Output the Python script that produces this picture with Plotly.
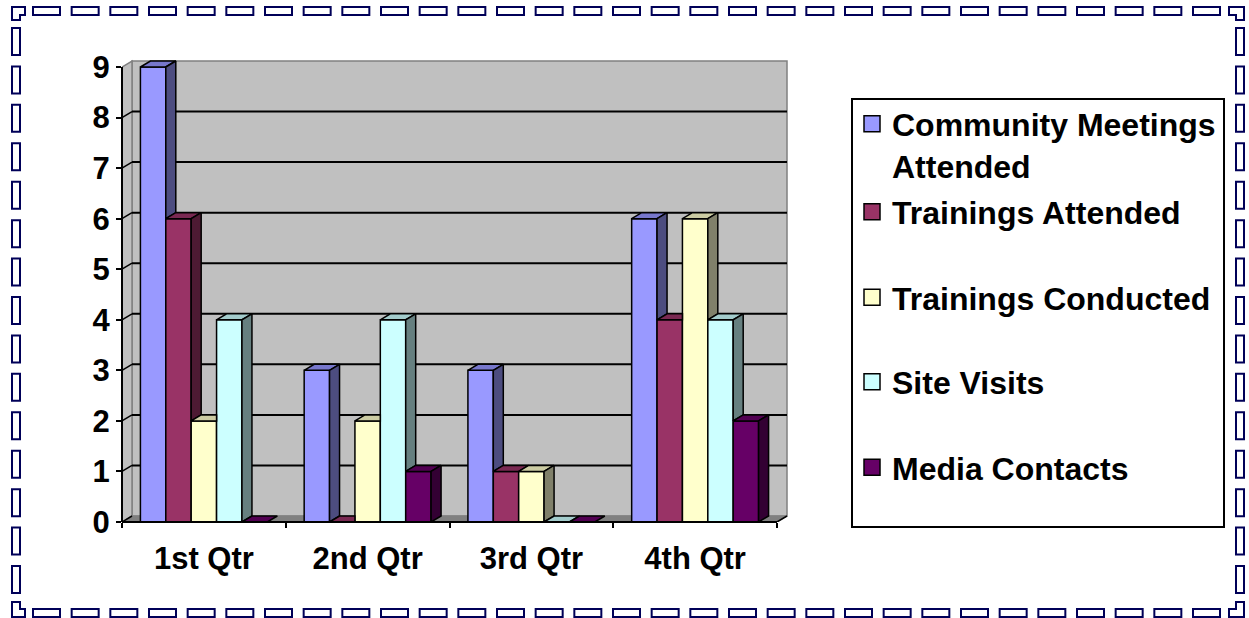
import plotly.graph_objects as go
import numpy as np

# ---------------- data ----------------
categories = ["1st Qtr", "2nd Qtr", "3rd Qtr", "4th Qtr"]
series_names = ["Community Meetings<br>Attended", "Trainings Attended",
                "Trainings Conducted", "Site Visits", "Media Contacts"]
community_meetings = [9, 3, 3, 6]
trainings_attended = [6, 0, 1, 4]
trainings_conducted = [2, 2, 1, 6]
site_visits = [4, 4, 0, 4]
media_contacts = [0, 1, 0, 2]
y_tick_values = [0, 1, 2, 3, 4, 5, 6, 7, 8, 9]

series_values = [community_meetings, trainings_attended, trainings_conducted,
                 site_visits, media_contacts]

# ---------------- styles ----------------
front_colors = ["#9999FF", "#993366", "#FFFFCC", "#CCFFFF", "#660066"]
top_colors = ["#7777CC", "#7A2952", "#CCCCA3", "#A3CCCC", "#520052"]
side_colors = ["#4D4D80", "#4D1A33", "#80806A", "#668080", "#330033"]
WALL = "#C0C0C0"
WALL_EDGE = "#808080"
FLOOR = "#808080"
BORDER = "#000058"
FONT = "Liberation Sans, Arial, sans-serif"

W, H = 1249, 618
PLOT_L, PLOT_R, PLOT_T, PLOT_B = 122, 790, 56, 522
TOP_TICK_PX = 67
X_END_PX = 777
DEPTH_X_PX, DEPTH_Y_PX = 10, 6

y_top = max(y_tick_values)
ncat = len(categories)
unit_y = (PLOT_B - TOP_TICK_PX) / y_top
YMAX = (PLOT_B - PLOT_T) / unit_y
XMIN = -0.5
unit_x = (X_END_PX - PLOT_L) / ncat
XMAX = XMIN + (PLOT_R - PLOT_L) / unit_x
dxu = DEPTH_X_PX / unit_x
dyu = DEPTH_Y_PX / unit_y
BAR_W = 0.155
nser = len(series_values)
XEND = XMIN + ncat


def px_x(px):
    return (px - PLOT_L) / (PLOT_R - PLOT_L)


def px_y(py):
    return (PLOT_B - py) / (PLOT_B - PLOT_T)


fig = go.Figure()

# front faces (bars)
centers = np.arange(ncat)
for i, vals in enumerate(series_values):
    xs = centers + (i - (nser - 1) / 2) * BAR_W
    fig.add_trace(go.Bar(x=xs, y=vals, width=BAR_W, marker=dict(color=front_colors[i],
                         line=dict(color="black", width=1.5)),
                         showlegend=False, hoverinfo="skip"))

# top and side faces, drawn series by series
for i, vals in enumerate(series_values):
    xs = centers + (i - (nser - 1) / 2) * BAR_W
    tx, ty, sx, sy = [], [], [], []
    for c in range(ncat):
        h = vals[c]
        L, R = xs[c] - BAR_W / 2, xs[c] + BAR_W / 2
        nxt = series_values[i + 1][c] if i + 1 < nser else None
        if nxt is not None and nxt > h:
            tx += [L, R, R, L + dxu, L, None]
            ty += [h, h, h + dyu, h + dyu, h, None]
        else:
            tx += [L, R, R + dxu, L + dxu, L, None]
            ty += [h, h, h + dyu, h + dyu, h, None]
        lo = min(h, nxt) if nxt is not None else 0
        if h > lo:
            sx += [R, R, R + dxu, R + dxu, R, None]
            sy += [lo, h, h + dyu, lo + dyu, lo, None]
    fig.add_trace(go.Scatter(x=tx, y=ty, mode="lines", fill="toself",
                             fillcolor=top_colors[i], line=dict(color="black", width=1.5),
                             showlegend=False, hoverinfo="skip"))
    if sx:
        fig.add_trace(go.Scatter(x=sx, y=sy, mode="lines", fill="toself",
                                 fillcolor=side_colors[i], line=dict(color="black", width=1.5),
                                 showlegend=False, hoverinfo="skip"))

# legend proxies, each in its own legend
legend_centers_px = [145, 212, 297.5, 382, 467.5]
legend_layouts = {}
for i, name in enumerate(series_names):
    key = "legend" if i == 0 else f"legend{i + 1}"
    fig.add_trace(go.Scatter(x=[None], y=[None], mode="markers", name=name,
                             marker=dict(symbol="square", size=16, color=front_colors[i],
                                         line=dict(color="black", width=1.5)),
                             legend=key, hoverinfo="skip"))
    legend_layouts[key] = dict(x=px_x(852), y=px_y(legend_centers_px[i]), xanchor="left",
                               yanchor="middle", valign="top", bgcolor="rgba(0,0,0,0)",
                               borderwidth=0,
                               font=dict(family=FONT, size=32, color="black", weight="bold"))

shapes = []
# back wall
shapes.append(dict(type="rect", xref="x", yref="y", x0=XMIN + dxu, x1=XEND + dxu,
                   y0=dyu, y1=y_top + dyu, fillcolor=WALL, line=dict(color=WALL_EDGE, width=1.5),
                   layer="below"))
# left wall
shapes.append(dict(type="path", xref="x", yref="y",
                   path=f"M{XMIN},0 L{XMIN},{y_top} L{XMIN + dxu},{y_top + dyu} L{XMIN + dxu},{dyu} Z",
                   fillcolor=WALL, line=dict(color=WALL_EDGE, width=1.5), layer="below"))
# floor
shapes.append(dict(type="path", xref="x", yref="y",
                   path=f"M{XMIN},0 L{XEND},0 L{XEND + dxu},{dyu} L{XMIN + dxu},{dyu} Z",
                   fillcolor=FLOOR, line=dict(color=FLOOR, width=1), layer="below"))
# gridlines on back wall and left wall
for k in y_tick_values[1:-1]:
    shapes.append(dict(type="line", xref="x", yref="y", x0=XMIN + dxu, x1=XEND + dxu,
                       y0=k + dyu, y1=k + dyu, line=dict(color="black", width=2), layer="below"))
for k in y_tick_values[:-1]:
    shapes.append(dict(type="line", xref="x", yref="y", x0=XMIN, x1=XMIN + dxu,
                       y0=k, y1=k + dyu, line=dict(color="black", width=1.5), layer="below"))
# right end of floor edge
shapes.append(dict(type="line", xref="x", yref="y", x0=XEND, x1=XEND + dxu, y0=0, y1=dyu,
                   line=dict(color="black", width=1.5)))
# axis lines
shapes.append(dict(type="line", xref="paper", yref="paper", x0=0, x1=0, y0=0,
                   y1=y_top / YMAX, line=dict(color="black", width=2)))
shapes.append(dict(type="line", xref="paper", yref="paper", x0=0,
                   x1=(XEND - XMIN) / (XMAX - XMIN), y0=0, y1=0,
                   line=dict(color="black", width=2)))
# legend box
shapes.append(dict(type="rect", xref="paper", yref="paper", x0=px_x(852), x1=px_x(1224),
                   y0=px_y(527), y1=px_y(99), line=dict(color="black", width=2)))

# dashed chart-area border
bline = dict(color=BORDER, width=2)


def rect_px(x0, y0, x1, y1):
    return dict(type="rect", xref="paper", yref="paper", x0=px_x(x0), x1=px_x(x1),
                y0=px_y(y1), y1=px_y(y0), line=bline, fillcolor="white")


def path_px(pts):
    s = "M" + " L".join(f"{px_x(a)},{px_y(b)}" for a, b in pts) + " Z"
    return dict(type="path", xref="paper", yref="paper", path=s, line=bline,
                fillcolor="white")


n_h, dash_h, start_h, last_h = 31, 27, 33, 1193
step_h = (last_h - start_h) / (n_h - 1)
for j in range(n_h):
    a = start_h + j * step_h
    shapes.append(rect_px(a, 7, a + dash_h, 15))
    shapes.append(rect_px(a, 609, a + dash_h, 617))
n_v, dash_v, start_v, last_v = 15, 27, 28, 566
step_v = (last_v - start_v) / (n_v - 1)
for j in range(n_v):
    b = start_v + j * step_v
    shapes.append(rect_px(12, b, 20, b + dash_v))
    shapes.append(rect_px(1236, b, 1244, b + dash_v))
shapes.append(path_px([(12, 7), (25, 7), (25, 15), (20, 15), (20, 20), (12, 20)]))
shapes.append(path_px([(1229, 7), (1244, 7), (1244, 20), (1236, 20), (1236, 15), (1229, 15)]))
shapes.append(path_px([(12, 602), (20, 602), (20, 609), (25, 609), (25, 617), (12, 617)]))
shapes.append(path_px([(1236, 602), (1244, 602), (1244, 617), (1229, 617), (1229, 609), (1236, 609)]))

tickfont = dict(family=FONT, size=31, color="black", weight="bold")
fig.update_layout(
    width=W, height=H,
    margin=dict(l=PLOT_L, r=W - PLOT_R, t=PLOT_T, b=H - PLOT_B, pad=0),
    paper_bgcolor="white", plot_bgcolor="white",
    barmode="overlay", hovermode=False,
    shapes=shapes,
    xaxis=dict(type="linear", range=[XMIN, XMAX], tickmode="array", tickvals=list(centers),
               ticktext=categories, ticks="outside", ticklen=5, tickcolor="rgba(0,0,0,0)",
               ticklabelstandoff=4,
               minor=dict(tickmode="array", tickvals=[XMIN + c for c in range(ncat + 1)],
                          ticks="outside", ticklen=5, tickwidth=2, tickcolor="black"),
               showgrid=False, zeroline=False, showline=False, tickfont=tickfont,
               fixedrange=True),
    yaxis=dict(range=[0, YMAX], tickmode="array", tickvals=y_tick_values, ticks="outside",
               ticklen=5, tickwidth=2, tickcolor="black", showgrid=False, zeroline=False,
               showline=False, tickfont=tickfont, fixedrange=True),
    **legend_layouts,
)

fig.write_html("out.html", config={"displayModeBar": False},
               post_script="document.body.style.margin='0';document.body.style.overflow='hidden';")
